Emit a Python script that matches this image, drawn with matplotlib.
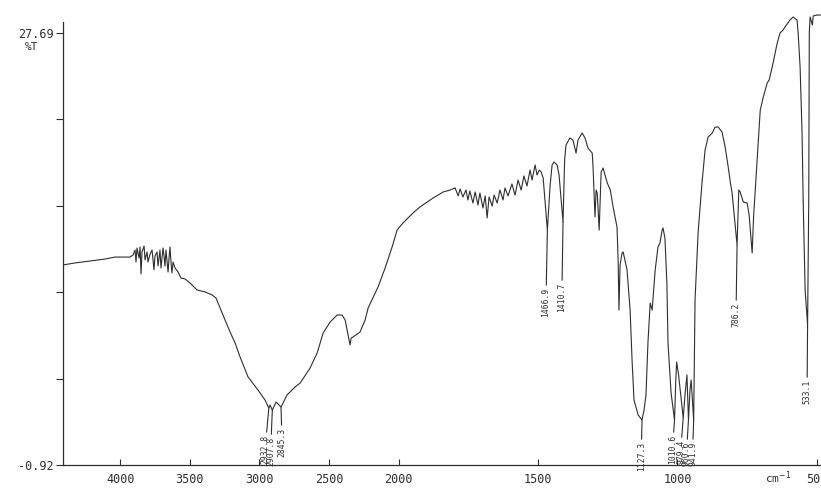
import numpy as np
import matplotlib
matplotlib.use("Agg")
import matplotlib.pyplot as plt

# ---------------- data ----------------
wavenumber = [4410, 4324, 4216, 4108, 4037, 3929, 3907, 3893, 3886, 3879, 3864, 3857, 3850, 3843,
              3828, 3821, 3807, 3800, 3785, 3771, 3757, 3750, 3735, 3728, 3714, 3707, 3692, 3685,
              3678, 3671, 3656, 3649, 3642, 3635, 3628, 3620, 3606, 3584, 3563, 3534, 3498, 3448,
              3390, 3340, 3312, 3283, 3247, 3211, 3175, 3139, 3082, 3011, 2960, 2932.8, 2924,
              2907.8, 2881, 2845.3, 2802, 2744, 2708, 2637, 2586, 2543, 2493, 2443, 2407, 2385,
              2364, 2350, 2342, 2328, 2278, 2242, 2220, 2149, 2098, 2048, 2012,
              1985, 1949, 1924, 1877, 1841, 1816, 1798, 1787, 1780, 1770, 1759, 1752, 1745, 1734,
              1726, 1716, 1709, 1698, 1690, 1683, 1676, 1665, 1658, 1647, 1637, 1626, 1619, 1608,
              1594, 1583, 1572, 1561, 1551, 1540, 1529, 1522, 1511, 1504, 1496, 1489, 1482, 1466.9,
              1457, 1450, 1443, 1432, 1425, 1410.7, 1405, 1400, 1386, 1375, 1364, 1357, 1342, 1332,
              1321, 1306, 1303, 1296, 1292, 1288, 1281, 1274, 1267, 1252, 1241, 1231, 1217, 1213,
              1210, 1206, 1199, 1195, 1181, 1170, 1163, 1156, 1141, 1127.3, 1120, 1113, 1106, 1098,
              1091, 1080, 1070, 1063, 1055, 1052, 1045, 1038, 1034, 1023, 1010.6, 1006, 1003, 996,
              979.4, 973, 966, 960.6, 955, 951, 941.9, 937, 929, 926, 912, 901, 890, 875, 865, 854,
              840, 829, 818, 810, 804, 800, 786.2, 780, 775, 764, 750, 743, 732, 727, 714, 703, 692,
              678, 671, 660, 642, 632, 621, 614, 596, 585, 571, 567, 560, 553, 549, 542, 533.1, 529,
              527, 524, 516, 513, 499, 485]

transmittance = [12.33, 12.46, 12.59, 12.72, 12.85, 12.85, 12.99, 13.32, 12.52, 13.45, 12.79, 13.52,
                 11.73, 13.19, 13.58, 12.66, 13.19, 12.52, 13.05, 13.32, 12.00, 12.92, 13.19, 12.26,
                 13.32, 12.13, 13.45, 12.92, 12.26, 13.32, 11.86, 12.79, 13.52, 12.52, 11.80, 12.52,
                 12.13, 11.86, 11.46, 11.40, 11.13, 10.67, 10.54, 10.34, 10.14, 9.48, 8.68, 7.89,
                 7.16, 6.23, 4.91, 4.05, 3.38, 2.85, 3.05, 2.72, 3.25, 2.92, 3.72, 4.25, 4.51, 5.50,
                 6.50, 7.82, 8.55, 9.01, 9.01, 8.68, 7.69, 7.03, 7.49, 7.56, 7.89, 8.68, 9.48, 10.87,
                 12.13, 13.52, 14.64,
                 15.11, 15.77, 16.17, 16.76, 17.16, 17.29, 17.43, 16.90, 17.36, 16.83, 17.29, 16.63,
                 17.23, 16.43, 17.16, 16.30, 17.09, 16.10, 16.90, 15.44, 16.83, 16.23, 16.96, 16.43,
                 17.29, 16.63, 17.43, 16.90, 17.69, 16.96, 17.95, 17.29, 18.22, 17.56, 18.62, 17.95,
                 18.95, 18.29, 18.62, 18.48, 18.09, 14.64, 17.62, 18.95, 19.15, 18.95, 18.29, 15.17,
                 19.28, 20.27, 20.74, 20.60, 19.74, 20.60, 21.07, 20.74, 20.07, 19.74, 18.82, 15.50,
                 17.29, 17.09, 14.64, 18.48, 18.75, 17.76, 17.29, 16.17, 14.84, 12.66, 9.34, 12.33,
                 13.12, 13.19, 12.00, 9.34, 6.03, 3.38, 2.39, 2.06, 2.72, 3.72, 7.16, 9.81, 9.34,
                 12.00, 13.52, 13.78, 14.64, 14.78, 14.11, 11.13, 7.16, 3.85, 2.06, 4.71, 5.90, 5.04,
                 2.19, 3.72, 5.04, 2.06, 4.05, 4.71, 2.06, 10.01, 13.32, 14.45, 17.76, 19.94, 20.80,
                 21.07, 21.46, 21.46, 21.13, 20.14, 18.82, 17.76, 17.09, 16.30, 13.65, 17.29, 17.16,
                 16.50, 16.43, 15.64, 13.12, 15.50, 19.28, 22.59, 23.45, 24.38, 24.58, 25.44, 27.03,
                 27.69, 27.89, 28.09, 28.55, 28.75, 28.55, 27.69, 25.44, 21.07, 16.63, 10.67, 8.35,
                 16.63, 27.69, 28.75, 28.22, 28.82, 28.88, 28.88]

peak_labels = ['2932.8', '2907.8', '2845.3', '1466.9', '1410.7', '1127.3',
               '1010.6', '979.4', '960.6', '941.9', '786.2', '533.1']
peak_wn = [2932.8, 2907.8, 2845.3, 1466.9, 1410.7, 1127.3,
           1010.6, 979.4, 960.6, 941.9, 786.2, 533.1]
peak_T = [2.85, 2.72, 2.92, 14.64, 15.17, 2.06, 2.06, 2.19, 2.06, 2.06, 13.65, 8.35]

x_ticks = [4000, 3500, 3000, 2500, 2000, 1500, 1000, 500]
y_bottom, y_top = -0.92, 27.69

# label layout (where each rotated peak label sits)
label_x = [2960, 2920, 2838, 1472, 1415, 1130, 1018, 989, 968, 946, 790, 535]
label_y = [1.07, 0.93, 1.53, 10.80, 11.13, 0.60, 1.07, 0.73, 0.60, 0.60, 9.81, 4.71]

# ---------------- figure ----------------
ink = '#2e2e2e'
mono = 'DejaVu Sans Mono'

fig = plt.figure(figsize=(8.21, 4.91), dpi=100)
ax = fig.add_axes([63/821, 26/491, 758/821, 453/491])


def fwd(w):
    w = np.asarray(w, dtype=float)
    return np.where(w < 2000, 2 * w, w + 2000)


def inv(p):
    p = np.asarray(p, dtype=float)
    return np.where(p < 4000, p / 2, p - 2000)


ax.set_xscale('function', functions=(fwd, inv))
ax.plot(wavenumber, transmittance, color=ink, lw=0.8)
ax.set_xlim(4410, 485)
ax.set_ylim(y_bottom, 29.08)

ax.set_xticks(x_ticks)
ax.set_xticklabels([str(t) for t in x_ticks], fontfamily=mono, fontsize=8.5, color=ink)
ax.xaxis.set_minor_locator(matplotlib.ticker.NullLocator())
ax.tick_params(axis='x', direction='in', length=4, width=0.8, colors=ink, pad=6)

yt = np.linspace(y_bottom, y_top, 6)
ax.set_yticks(yt)
ax.set_yticklabels(['-0.92', '', '', '', '', '27.69'], fontfamily=mono, fontsize=8.5, color=ink)
ax.yaxis.set_minor_locator(matplotlib.ticker.NullLocator())
ax.tick_params(axis='y', direction='out', length=5, width=0.8, colors=ink, pad=2)

for s in ['top', 'right']:
    ax.spines[s].set_visible(False)
for s in ['left', 'bottom']:
    ax.spines[s].set_color(ink)
    ax.spines[s].set_linewidth(0.9)
ax.spines['left'].set_bounds(y_bottom, 28.42)

# %T under the top label, cm-1 unit near the right end
ax.text(-0.042, 0.923, '%T', transform=ax.transAxes, fontfamily=mono, fontsize=8,
        color=ink, ha='center', va='center')
ax.text(0.943, -0.027, 'cm$^{-1}$', transform=ax.transAxes, fontfamily=mono, fontsize=8,
        color=ink, ha='center', va='center')

for lab, xw, yt_, lx, ly in zip(peak_labels, peak_wn, peak_T, label_x, label_y):
    ax.annotate(lab, xy=(xw, yt_), xytext=(lx, ly), textcoords='data',
                rotation=90, ha='center', va='top', fontfamily=mono, fontsize=5.8,
                color=ink, annotation_clip=False,
                arrowprops=dict(arrowstyle='-', lw=0.8, color=ink, shrinkA=0, shrinkB=0))

fig.savefig('out.png', dpi=100, facecolor='white')
